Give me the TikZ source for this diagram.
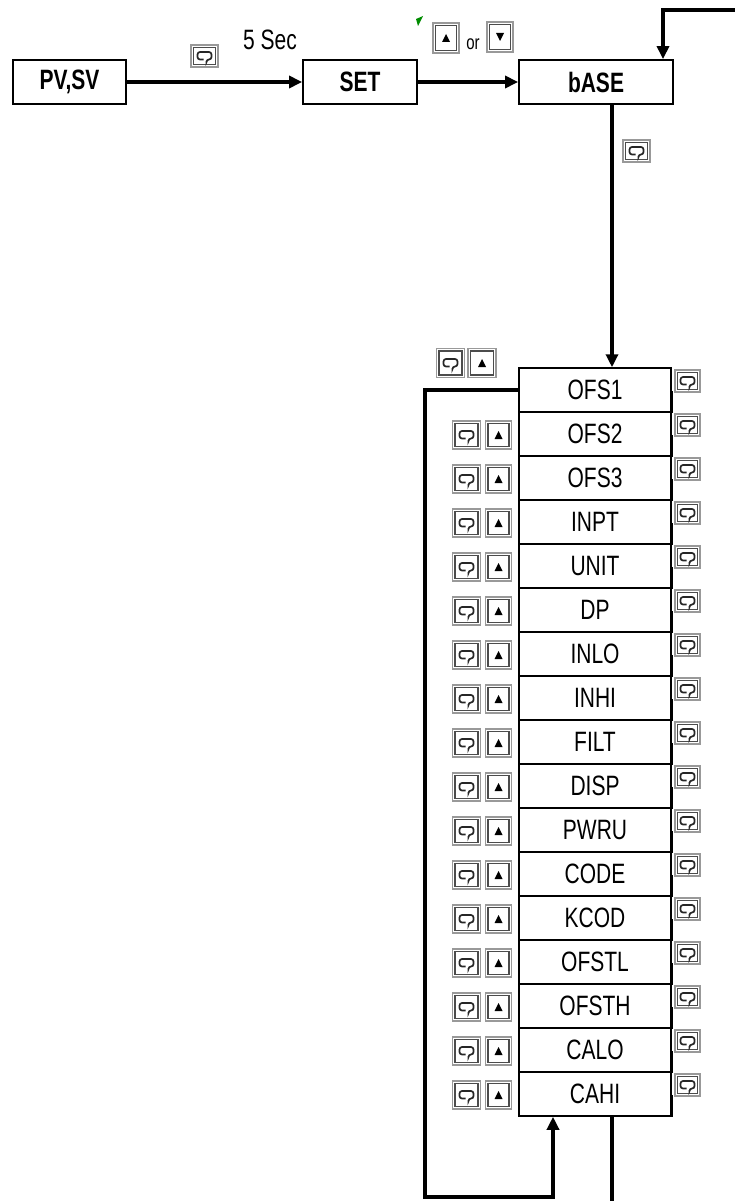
\documentclass[tikz,border=0pt]{standalone}
\usepackage{fontspec}
\setmainfont{Liberation Sans}
\newfontfamily\narrowfont[FakeStretch=0.75]{Liberation Sans}
\usetikzlibrary{arrows.meta}
\pgfdeclarelayer{nodelayer}
\pgfdeclarelayer{edgelayer}
\pgfsetlayers{edgelayer,nodelayer,main}
\newcommand{\keybox}{\draw[black!70, line width=1.3pt] ([shift={(2.4pt,2.4pt)}]path picture bounding box.south west) rectangle ([shift={(-2.4pt,-2.4pt)}]path picture bounding box.north east);}
\tikzset{state/.style={draw, line width=1.8pt, minimum height=44pt, inner sep=0pt, font=\narrowfont\bfseries\fontsize{28}{30}\selectfont}}
\tikzset{param/.style={draw, line width=1.5pt, minimum width=152pt, minimum height=44pt, inner sep=0pt, font=\narrowfont\fontsize{28}{30}\selectfont}}
\tikzset{flow/.style={line width=3.5pt, -{Triangle[length=13pt,width=12pt]}}}
\tikzset{wire/.style={line width=3.5pt}}
\tikzset{keyframe/.style={draw=black!40, line width=1.2pt, fill=white, inner sep=0pt, minimum width=27pt, minimum height=23pt}}
\tikzset{menukey/.style={keyframe, path picture={\keybox
\draw[black!85, line width=1.7pt, rounded corners=2.5pt] ([shift={(-1pt,-3.5pt)}]path picture bounding box.center) -- ++(-6pt,0pt) -- ++(0pt,7.5pt) -- ++(14pt,0pt) -- ++(0pt,-7.5pt) -- ++(-5pt,0pt) -- ++(0pt,-1.5pt);}}}
\tikzset{upkey/.style={keyframe, path picture={\keybox
\fill[black] ([yshift=4pt]path picture bounding box.center) -- ([shift={(-4pt,-4pt)}]path picture bounding box.center) -- ([shift={(4pt,-4pt)}]path picture bounding box.center) -- cycle;}}}
\tikzset{downkey/.style={keyframe, path picture={\keybox
\fill[black] ([yshift=-4pt]path picture bounding box.center) -- ([shift={(-4pt,4pt)}]path picture bounding box.center) -- ([shift={(4pt,4pt)}]path picture bounding box.center) -- cycle;}}}
\tikzset{label/.style={inner sep=0pt, font=\narrowfont\fontsize{28}{30}\selectfont}}

\begin{document}
\begin{tikzpicture}[x=1pt, y=-1pt]
    \useasboundingbox (0,0) rectangle (735,1201);
        \begin{pgfonlayer}{nodelayer}
            \node [style=state, minimum width=113pt] (pv) at (69.5, 82) {PV,SV};
            \node [style=state, minimum width=114pt] (set) at (360, 82) {SET};
            \node [style=state, minimum width=154pt] (base) at (596, 82) {bASE};
            \node [style=menukey, minimum height=22pt] (k0) at (204.5, 56) {};
            \node [style=label] (sec) at (270, 40) {5 Sec};
            \node [style=upkey, minimum width=26pt, minimum height=30pt] (up) at (446, 38) {};
            \node [style=label, font=\narrowfont\fontsize{20}{20}\selectfont] (or) at (473, 44) {or};
            \node [style=downkey, minimum width=26pt, minimum height=30pt] (down) at (500, 37) {};
            \node [style=menukey, minimum height=22pt] (k1) at (636.5, 151) {};
            \node [style=menukey, minimum width=28pt, minimum height=29pt] (k2) at (450.5, 363) {};
            \node [style=upkey, minimum width=28pt, minimum height=29pt] (k3) at (482, 363) {};
            \node [style=param] (p0) at (595, 390) {OFS1};
            \node [style=param] (p1) at (595, 434) {OFS2};
            \node [style=param] (p2) at (595, 478) {OFS3};
            \node [style=param] (p3) at (595, 522) {INPT};
            \node [style=param] (p4) at (595, 566) {UNIT};
            \node [style=param] (p5) at (595, 610) {DP};
            \node [style=param] (p6) at (595, 654) {INLO};
            \node [style=param] (p7) at (595, 698) {INHI};
            \node [style=param] (p8) at (595, 742) {FILT};
            \node [style=param] (p9) at (595, 786) {DISP};
            \node [style=param] (p10) at (595, 830) {PWRU};
            \node [style=param] (p11) at (595, 874) {CODE};
            \node [style=param] (p12) at (595, 918) {KCOD};
            \node [style=param] (p13) at (595, 962) {OFSTL};
            \node [style=param] (p14) at (595, 1006) {OFSTH};
            \node [style=param] (p15) at (595, 1050) {CALO};
            \node [style=param] (p16) at (595, 1094) {CAHI};
            \foreach \i in {0,...,16}
                \node [style=menukey, minimum width=25pt, minimum height=22pt] (r\i) at (687.5, {381+44*\i}) {};
            \foreach \i in {1,...,16} {
                \node [style=menukey, minimum width=28pt, minimum height=28pt] (lm\i) at (466.5, {391+44*\i}) {};
                \node [style=upkey, minimum width=26pt, minimum height=28pt] (lu\i) at (498.5, {391+44*\i}) {};
            }
            \coordinate (back) at (740, 10);
            \coordinate (lb) at (425, 1197);
            \coordinate (out) at (612, 1210);
        \end{pgfonlayer}
        \begin{pgfonlayer}{edgelayer}
            \draw [style=flow] (pv) to (set);
            \draw [style=flow] (set) to (base);
            \draw [style=flow] (back) -| ([xshift=67pt]base.north);
            \draw [style=flow] ([xshift=16pt]base.south) to ([xshift=16pt]base.south |- p0.north);
            \foreach \i in {0,...,16}
                \draw [line width=3pt] ([yshift=-24pt]p\i.north east) to (p\i.south east);
            \draw [style=flow] (p0.west) -| (lb) -| ([xshift=-42pt]p16.south);
            \draw [style=wire] ([xshift=17pt]p16.south) to (out);
        \end{pgfonlayer}
        \fill [green!55!black] (416, 19) -- (423, 16) -- (418, 26) -- cycle;
    \end{tikzpicture}
\end{document}
